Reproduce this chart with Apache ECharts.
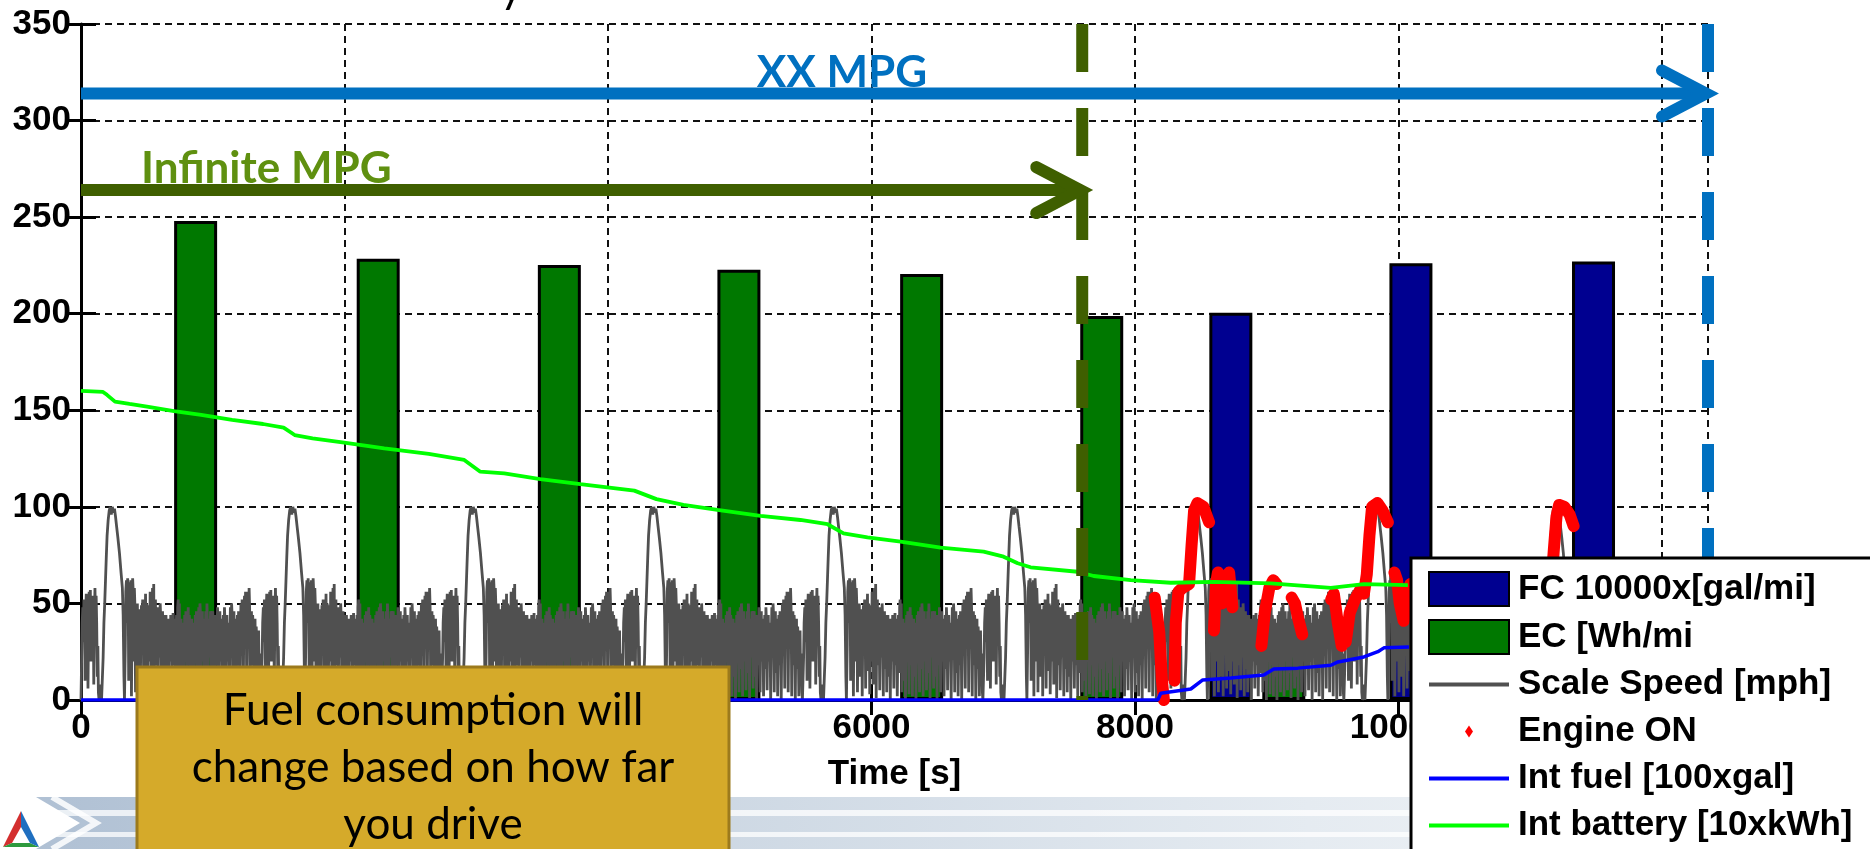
<!DOCTYPE html>
<html>
<head>
<meta charset="utf-8">
<script src="https://cdn.jsdelivr.net/npm/echarts@6/dist/echarts.min.js"></script>
<style>
  html, body { margin: 0; padding: 0; background: #ffffff; }
  #chart { width: 1870px; height: 849px; }
</style>
</head>
<body>
<div id="chart"></div>
<script>
// ---- Per-cycle consumption bars (time of bar centre [s], value) ----
const ecTimes  = [870, 2256, 3631, 4994, 6381, 7748, 9130];
const ecValues = [248, 228.4, 225.2, 222.8, 220.6, 198.8, 33.6];
const fcTimes  = [8728, 10095, 11481];
const fcValues = [200.5, 226.1, 227.0];

// ---- Drive cycle (scaled speed) : one cycle [seconds into cycle, speed] ----
const speedProfile = [
  // opening stop-and-go
  [0,0],[5,22],[9,40],[14,48],[18,30],[22,52],[27,44],[31,10],[36,46],[40,55],[45,34],[49,50],
  [53,6],[58,42],[62,56],[67,40],[71,57],[75,20],[80,48],[84,54],[89,30],[93,52],[97,8],[102,44],
  [106,58],[111,36],[115,54],[119,40],[124,12],[128,28],[132,4],[137,0],[144,0],[150,8],[156,0],[162,0],
  // the long hill
  [168,22],[174,40],[180,50],[186,62],[192,74],[198,85],[206,93],[214,98],[222,100],[230,96],
  [238,100],[246,97],[254,99],[262,95],[270,90],[280,84],[292,76],[304,66],[314,58],[320,44],
  [326,12],[330,0],
  // city part
  [336,28],[340,56],[345,62],[350,40],[354,63],[358,58],[362,10],[366,50],[370,61],[375,35],
  [379,62],[383,2],[388,45],[392,63],[397,55],[401,20],[405,58],[410,47],[414,4],[419,46],
  [423,38],[428,50],[432,12],[437,45],[441,30],[446,47],[450,2],[455,40],[459,49],[464,25],
  [468,52],[472,44],[476,6],[481,48],[485,30],[490,55],[494,15],[499,50],[503,42],[507,3],
  [512,38],[516,49],[521,20],[525,56],[530,44],[534,8],[539,40],[543,58],[548,30],[552,60],
  [556,1],[561,46],[565,52],[570,18],[574,48],[578,40],[583,5],[588,36],[592,48],[596,22],
  [601,50],[605,43],[610,2],[614,40],[619,46],[623,16],[627,44],[632,34],[636,4],[641,38],
  [645,44],[650,12],[654,42],[659,30],[663,0],[668,36],[672,42],[676,20],[681,44],[685,38],
  [690,6],[694,34],[699,45],[703,18],[708,42],[712,36],[716,2],[721,30],[725,44],[730,14],
  [734,48],[738,52],[743,26],[747,50],[751,4],[756,36],[760,42],[765,10],[769,38],[774,40],
  [778,0],[783,30],[787,44],[792,20],[796,46],[800,40],[805,3],[809,34],[814,48],[818,18],
  [822,44],[827,38],[831,2],[836,36],[840,42],[845,12],[849,40],[854,30],[858,0],[863,28],
  [867,44],[872,22],[876,46],[880,38],[885,4],[889,30],[894,48],[898,16],[903,50],[907,44],
  [912,2],[916,38],[921,46],[925,20],[929,42],[934,36],[938,5],[943,32],[947,46],[952,14],
  [956,50],[960,40],[965,1],[969,36],[974,42],[978,22],[983,46],[987,38],[992,6],[996,34],
  [1000,46],[1005,12],[1009,44],[1014,40],[1018,0],[1023,30],[1027,44],[1032,18],[1036,48],
  [1040,40],[1045,4],[1049,34],[1054,46],[1058,20],[1063,42],[1067,36],[1071,2],[1076,30],
  [1080,44],[1085,16],[1089,48],[1094,38],[1098,5],[1103,36],[1107,44],[1112,20],[1116,40],
  [1120,34],[1125,0],[1130,32],[1134,48],[1139,22],[1143,50],[1147,44],[1152,4],[1156,38],
  [1161,46],[1165,14],[1169,42],[1174,36],[1178,2],[1183,30],[1187,44],[1192,18],[1196,46],
  [1200,40],[1205,0],[1210,34],[1214,50],[1219,26],[1223,52],[1227,44],[1232,6],[1236,40],
  [1241,54],[1245,30],[1249,56],[1254,46],[1258,4],[1263,42],[1267,56],[1272,28],[1276,58],
  [1280,48],[1285,2],[1289,36],[1294,46],[1298,18],[1303,44],[1307,38],[1312,0],[1316,30],
  [1321,42],[1325,16],[1330,38],[1334,30],[1339,2],[1343,28],[1348,36],[1352,12],[1357,24],
  [1362,4],[1366,0]
];
// start time of each repetition of the drive cycle [s]
const cycleStarts = [0, 1370, 2740, 4110, 5480, 6850, 8220, 9590, 10960];

// ---- Engine ON stretches [s, speed]; null separates stretches ----
const engineOn = [
  [8150,53],[8165,52],[8185,35],[8205,10],[8220,0], null,
  [8300,10],[8310,40],[8330,56],[8360,58],[8411,60],[8430,80],[8449,98],[8474,102],[8520,100],[8563,92], null,
  [8600,36],[8615,60],[8630,66],[8660,50],[8690,64],[8715,66],[8740,48], null,
  [8960,28],[8985,45],[9020,58],[9050,62],[9075,60], null,
  [9190,53],[9215,50],[9240,42],[9270,34], null,
  [9490,52],[9510,55],[9540,40],[9570,28], null,
  [9600,30],[9630,45],[9670,52],[9710,57],[9738,55],[9760,65],[9780,85],[9800,100],[9840,102],[9880,98],[9920,92], null,
  [9970,66],[9990,62],[10010,50],[10040,41],[10070,55],[10090,60], null,
  [11160,60],[11180,78],[11200,95],[11220,101],[11260,100],[11300,96],[11330,90]
];

// ---- Integrated fuel [100xgal] ----
const intFuel = [
  [0,0],[8173,0],[8196,3.5],[8424,5.7],[8515,10.4],[8728,11.4],[8978,13],[9054,16],
  [9237,16.5],[9487,18],[9541,19.7],[9738,22.3],[9844,25],[9890,27],[10080,27.5]
];

// ---- Integrated battery energy [10xkWh] ----
const intBattery = [
  [0,160],[167,159.5],[197,158],[258,154.5],[368,153.3],[501,151.9],[706,149.6],[912,147.6],
  [1147,145],[1382,142.9],[1538,141],[1622,137.2],[1758,135.5],[1998,133.2],[2302,130.3],
  [2640,127.4],[2909,124.3],[3031,118.2],[3213,117.3],[3486,114.4],[3790,111.8],[4200,108.4],
  [4368,104],[4573,101],[4831,98.4],[5158,95.3],[5461,93.2],[5667,91],[5788,86.3],[5970,84.2],
  [6221,82],[6525,78.9],[6851,76.8],[7003,74.2],[7110,70.8],[7208,68.7],[7565,66.4],[7687,64.2],
  [7968,62.1],[8272,60.7],[8599,61.2],[9032,60.4],[9487,58],[9738,60],[10072,59.5]
];

// ---- Range arrows: end time [s] and level on the chart ----
const rangeNames  = ['Infinite MPG', 'XX MPG'];
const rangeEnds   = [7600, 12350];
const rangeLevels = [264, 314];

// ---- Legend entries ----
const legendNames = ['FC 10000x[gal/mi]', 'EC [Wh/mi', 'Scale Speed [mph]', 'Engine ON',
                     'Int fuel [100xgal]', 'Int battery [10xkWh]'];

// ---------------------------------------------------------------------------
const X_MIN = 0, X_MAX = 12350, X_STEP = 2000;
const Y_MIN = 0, Y_MAX = 350, Y_STEP = 50;
const rangeColors = ['#3f5f00', '#0070c0'];

// repeated drive cycle
const speedData = [];
cycleStarts.forEach(function (s) {
  speedProfile.forEach(function (p) {
    if (s + p[0] <= X_MAX) speedData.push([s + p[0], p[1]]);
  });
});
const engineData = engineOn.map(function (p) { return p === null ? ['-', '-'] : p; });

const tickFont = { fontFamily: 'Liberation Sans', fontWeight: 'bold', fontSize: 35, color: '#000' };
const gridDash = { color: '#111', width: 2, type: [7, 5] };
const plainNumber = function (v) { return String(v); };

const chart = echarts.init(document.getElementById('chart'), null, { renderer: 'canvas' });

const lineIcon = 'path://M0,0H80V4H0Z';
const diamondIcon = 'path://M0,0L0.01,0M80,34L80.01,34M40,11L44,17L40,23L36,17Z';

chart.setOption({
  animation: false,
  backgroundColor: '#ffffff',
  grid: { left: 81, right: 162, top: 24, bottom: 149, outerBoundsMode: 'none', containLabel: false },
  xAxis: [{
    type: 'value', min: X_MIN, max: X_MAX, interval: X_STEP,
    name: 'Time [s]', nameLocation: 'middle', nameGap: 57,
    nameTextStyle: tickFont,
    axisLine: { show: true, lineStyle: { color: '#000', width: 3 } },
    axisTick: { show: true, inside: true, length: 15, lineStyle: { color: '#000', width: 3 } },
    axisLabel: Object.assign({ margin: 11, formatter: plainNumber }, tickFont),
    splitLine: { show: true, lineStyle: gridDash }
  }, {
    type: 'value', position: 'top', min: X_MIN, max: X_MAX, interval: X_STEP,
    axisLine: { show: true, lineStyle: { color: '#000', width: 3 } },
    axisTick: { show: true, inside: true, length: 15, lineStyle: { color: '#000', width: 3 } },
    axisLabel: { show: false }, splitLine: { show: false }
  }],
  yAxis: [{
    type: 'value', min: Y_MIN, max: Y_MAX, interval: Y_STEP,
    axisLine: { show: true, lineStyle: { color: '#000', width: 3 } },
    axisTick: { show: true, inside: true, length: 15, lineStyle: { color: '#000', width: 3 } },
    axisLabel: Object.assign({ margin: 10, formatter: plainNumber }, tickFont),
    splitLine: { show: true, lineStyle: gridDash }
  }, {
    type: 'value', position: 'right', min: Y_MIN, max: Y_MAX, interval: Y_STEP,
    axisLine: { show: true, lineStyle: { color: '#000', width: 2 } },
    axisTick: { show: true, inside: true, length: 15, lineStyle: { color: '#000', width: 3 } },
    axisLabel: { show: false }, splitLine: { show: false }
  }],
  legend: {
    type: 'plain', orient: 'vertical', left: 1411, top: 558, width: 520, height: 340, z: 200,
    itemWidth: 80, itemHeight: 34, itemGap: 12,
    padding: [13, 60, 13, 17],
    backgroundColor: '#ffffff', borderColor: '#000', borderWidth: 3, borderRadius: 0,
    selectedMode: false,
    textStyle: { fontFamily: 'Liberation Sans', fontWeight: 'bold', fontSize: 35, color: '#000', padding: [0, 0, 0, 4] },
    data: [
      { name: legendNames[0], icon: 'rect' },
      { name: legendNames[1], icon: 'rect' },
      { name: legendNames[2], icon: lineIcon, itemStyle: { borderWidth: 0 } },
      { name: legendNames[3], icon: diamondIcon, itemStyle: { borderWidth: 0 } },
      { name: legendNames[4], icon: lineIcon, itemStyle: { borderWidth: 0 } },
      { name: legendNames[5], icon: lineIcon, itemStyle: { borderWidth: 0 } }
    ]
  },
  series: [
    {
      name: legendNames[0], type: 'bar', z: 2, barWidth: 43, barGap: '-100%', silent: true,
      color: '#000090',
      itemStyle: { color: '#000090', borderColor: '#000', borderWidth: 3 },
      data: fcTimes.map(function (t, i) { return [t, fcValues[i]]; })
    },
    {
      name: legendNames[1], type: 'bar', z: 2, barWidth: 43, barGap: '-100%', silent: true,
      color: '#007800',
      itemStyle: { color: '#007800', borderColor: '#000', borderWidth: 3 },
      data: ecTimes.map(function (t, i) { return [t, ecValues[i]]; })
    },
    {
      name: legendNames[2], type: 'line', z: 3, symbol: 'none', showSymbol: false, silent: true,
      color: '#505050', sampling: null,
      lineStyle: { color: '#505050', width: 2.8 },
      data: speedData
    },
    {
      name: legendNames[3], type: 'line', z: 4, symbol: 'none', showSymbol: false, silent: true,
      color: '#ff0000', connectNulls: false,
      lineStyle: { color: '#ff0000', width: 12, join: 'round', cap: 'round' },
      data: engineData
    },
    {
      name: legendNames[4], type: 'line', z: 5, symbol: 'none', showSymbol: false, silent: true,
      color: '#0000ff',
      lineStyle: { color: '#0000ff', width: 3.5 },
      data: intFuel
    },
    {
      name: legendNames[5], type: 'line', z: 6, symbol: 'none', showSymbol: false, silent: true,
      color: '#00ff00',
      lineStyle: { color: '#00ff00', width: 3.8 },
      data: intBattery
    },
    {
      name: 'range', type: 'custom', z: 8, silent: true, clip: false,
      data: rangeEnds.map(function (x, i) { return [x, rangeLevels[i]]; }),
      renderItem: function (params, api) {
        const i = params.dataIndex;
        const x1 = api.value(0), lvl = api.value(1);
        const tip = api.coord([x1, lvl]);
        const start = api.coord([X_MIN, lvl]);
        const top = api.coord([x1, Y_MAX]);
        const bottom = api.coord([x1, Y_MIN]);
        const c = rangeColors[i];
        return {
          type: 'group',
          children: [
            { type: 'line', shape: { x1: top[0], y1: top[1], x2: bottom[0], y2: bottom[1] },
              style: { stroke: c, lineWidth: 12, lineDash: [48, 36], fill: null } },
            { type: 'line', shape: { x1: start[0], y1: start[1], x2: tip[0] - 6, y2: tip[1] },
              style: { stroke: c, lineWidth: 12, fill: null } },
            { type: 'polyline', shape: { points: [[tip[0] - 46, tip[1] - 23], [tip[0] - 2, tip[1]], [tip[0] - 46, tip[1] + 23]] },
              style: { stroke: c, lineWidth: 12, lineCap: 'round', lineJoin: 'miter', fill: null } }
          ]
        };
      }
    }
  ],
  graphic: [
    // slide footer band
    { type: 'rect', z: 1, silent: true, shape: { x: 0, y: 797, width: 1870, height: 52 },
      style: { fill: { type: 'linear', x: 0, y: 0, x2: 1, y2: 0,
        colorStops: [{ offset: 0, color: '#aebfd3' }, { offset: 0.3, color: '#c7d3e0' },
                     { offset: 0.7, color: '#e5ebf1' }, { offset: 1, color: '#f6f8fa' }] } } },
    { type: 'rect', z: 1, silent: true, shape: { x: 0, y: 810, width: 1870, height: 6 },
      style: { fill: 'rgba(255,255,255,0.75)' } },
    { type: 'rect', z: 1, silent: true, shape: { x: 0, y: 832, width: 1870, height: 5 },
      style: { fill: 'rgba(255,255,255,0.75)' } },
    { type: 'polygon', z: 1, silent: true,
      shape: { points: [[0, 797], [36, 797], [80, 823], [36, 849], [0, 849]] },
      style: { fill: '#ffffff' } },
    { type: 'polyline', z: 1, silent: true,
      shape: { points: [[52, 797], [96, 823], [52, 849]] },
      style: { stroke: 'rgba(255,255,255,0.85)', lineWidth: 6, fill: null } },
    // logo
    { type: 'polygon', z: 1, silent: true, shape: { points: [[21, 811], [21, 827], [12, 843], [3, 847]] }, style: { fill: '#d32f2f' } },
    { type: 'polygon', z: 1, silent: true, shape: { points: [[3, 847], [12, 843], [30, 843], [39, 847]] }, style: { fill: '#2e9a3e' } },
    { type: 'polygon', z: 1, silent: true, shape: { points: [[39, 847], [30, 843], [21, 827], [21, 811]] }, style: { fill: '#1f6fc0' } },
    // range labels
    { type: 'text', z: 150, silent: true,
      style: { x: 141, y: 169, text: rangeNames[0], fill: '#5f9010', font: 'bold 44px Lato', verticalAlign: 'middle', align: 'left' } },
    { type: 'text', z: 150, silent: true,
      style: { x: 842, y: 73, text: rangeNames[1], fill: '#0070c0', font: 'bold 44px Lato', verticalAlign: 'middle', align: 'center' } },
    // title descender peeking in at the top edge
    { type: 'text', z: 150, silent: true,
      style: { x: 500, y: -34, text: 'y', fill: '#000', font: '44px Lato', verticalAlign: 'top', align: 'left' } },
    // call-out box
    { type: 'rect', z: 150, silent: true, shape: { x: 137, y: 667, width: 592, height: 220 },
      style: { fill: '#d5aa2a', stroke: '#9c7a1c', lineWidth: 3 } },
    { type: 'text', z: 151, silent: true,
      style: { x: 433, y: 682, text: 'Fuel consumption will\nchange based on how far\nyou drive',
               fill: '#000', font: '44px Lato', lineHeight: 57, align: 'center', verticalAlign: 'top' } }
  ]
});
</script>
</body>
</html>
